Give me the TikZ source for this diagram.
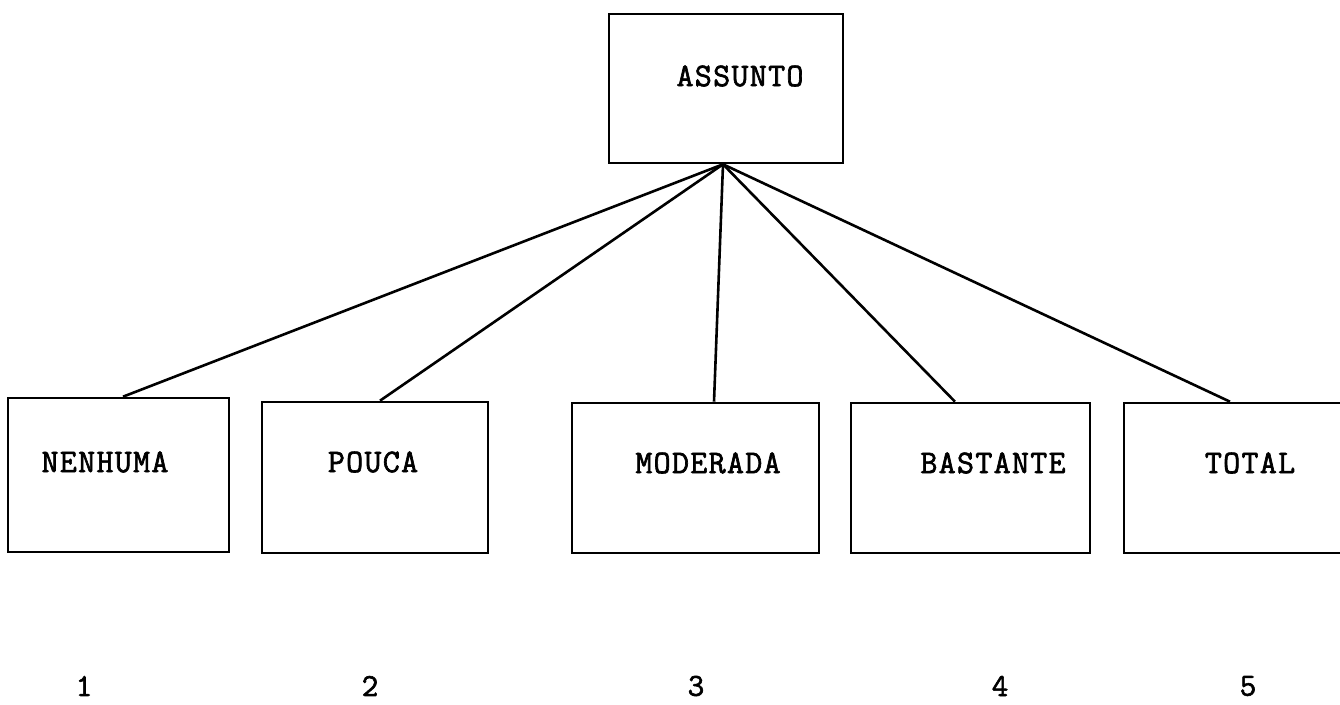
\documentclass[tikz,border=0pt]{standalone}
\usepackage{fontspec}
\setmonofont{Latin Modern Mono}[LetterSpace=4,FakeBold=2]
\begin{document}
\begin{tikzpicture}[x=1pt,y=-1pt,
  box/.style={draw, line width=2.6pt, rectangle, inner sep=0pt},
  link/.style={line width=2.6pt},
  lbl/.style={font=\ttfamily\fontsize{33}{33}\selectfont, inner sep=0pt},
  num/.style={font=\ttfamily\fontsize{32}{32}\selectfont, inner sep=0pt}]
\useasboundingbox (0,0) rectangle (1340,704);
\clip (0,0) rectangle (1340,704);
\fill[white] (0,0) rectangle (1340,704);

% subject box
\node[box, minimum width=234pt, minimum height=149pt] (top) at (726,88.5) {};
\node[lbl] (ttop) at (740,76) {ASSUNTO};

% degree boxes
\node[box, minimum width=221pt, minimum height=154pt] (b1) at (118.5,475) {};
\node[box, minimum width=226pt, minimum height=151pt] (b2) at (375,477.5) {};
\node[box, minimum width=247pt, minimum height=150pt] (b3) at (695.5,478) {};
\node[box, minimum width=239pt, minimum height=150pt] (b4) at (970.5,478) {};
\node[box, minimum width=240pt, minimum height=150pt] (b5) at (1244,478) {};

\node[lbl] (t1) at (105,462) {NENHUMA};
\node[lbl] (t2) at (373,462) {POUCA};
\node[lbl] (t3) at (708,463) {MODERADA};
\node[lbl] (t4) at (993,463) {BASTANTE};
\node[lbl] (t5) at (1250,463) {TOTAL};

% attachment points on the box tops
\coordinate (apex) at (723,0);
\coordinate (a1) at (123,0);
\coordinate (a2) at (380,0);
\coordinate (a3) at (714,0);
\coordinate (a4) at (955,0);
\coordinate (a5) at (1230,0);

\draw[link] (top.south -| apex) -- (b1.north -| a1);
\draw[link] (top.south -| apex) -- (b2.north -| a2);
\draw[link] (top.south -| apex) -- (b3.north -| a3);
\draw[link] (top.south -| apex) -- (b4.north -| a4);
\draw[link] (top.south -| apex) -- (b5.north -| a5);

% scale values
\node[num] (n1) at (84,686) {1};
\node[num] (n2) at (370,686) {2};
\node[num] (n3) at (696,686) {3};
\node[num] (n4) at (1000,686) {4};
\node[num] (n5) at (1248,686) {5};
\end{tikzpicture}
\end{document}
